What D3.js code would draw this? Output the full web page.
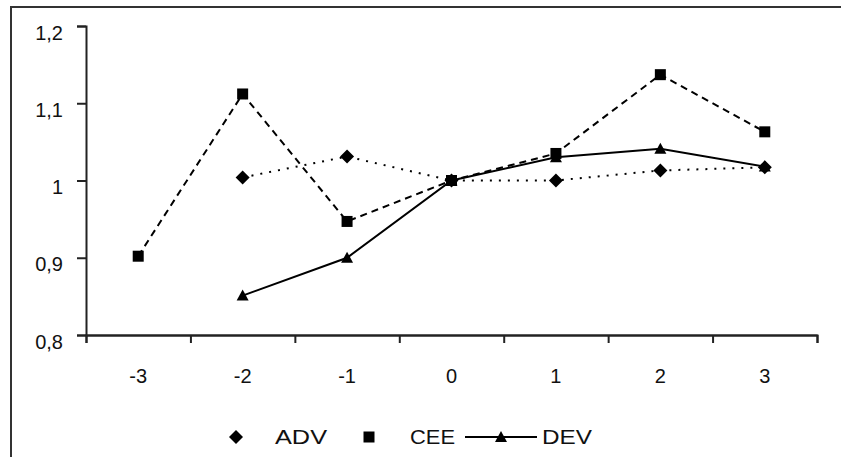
<!DOCTYPE html>
<html>
<head>
<meta charset="utf-8">
<script src="https://cdn.jsdelivr.net/npm/d3@7"></script>
<style>
  body { margin: 0; background: #fff; }
  svg { display: block; }
  text { font-family: "Liberation Sans", Arial, sans-serif; fill: #111; }
</style>
</head>
<body>
<svg id="chart" width="841" height="457"></svg>
<script>
// chart values
let categories = ["-3", "-2", "-1", "0", "1", "2", "3"];
let seriesNames = ["ADV", "CEE", "DEV"];
let advValues = [null, 1.004, 1.031, 1.0, 1.0, 1.013, 1.017];
let ceeValues = [0.902, 1.112, 0.947, 1.0, 1.035, 1.137, 1.063];
let devValues = [null, 0.851, 0.900, 1.0, 1.030, 1.041, 1.018];
let yTicks = [0.8, 0.9, 1.0, 1.1, 1.2];

let plotLeft = 86, plotRight = 817, plotTop = 26, plotBottom = 335;

var svg = d3.select("#chart");

// outer frame (runs off the right and bottom edge)
svg.append("rect")
    .attr("x", 11).attr("y", 7)
    .attr("width", 900).attr("height", 500)
    .attr("fill", "none")
    .attr("stroke", "#333")
    .attr("stroke-width", 2);

// scales
var xScale = d3.scaleBand()
    .domain(categories)
    .range([plotLeft, plotRight])
    .padding(0);

var yScale = d3.scaleLinear()
    .domain([0.8, 1.2])
    .range([plotBottom, plotTop]);

var commaFormat = d3.formatLocale({decimal: ",", thousands: ".", grouping: [3], currency: ["", ""]})
    .format(".2~f");

// y axis
var yAxisGroup = svg.append("g")
    .attr("transform", `translate(${plotLeft}, 0)`)
    .call(d3.axisLeft(yScale).tickValues(yTicks).tickSize(9).tickPadding(14).tickFormat(commaFormat));
yAxisGroup.selectAll("text")
    .attr("font-size", "20px")
    .attr("dy", "13px");

// x axis: labels at band centres, ticks at band edges
var xAxisGroup = svg.append("g")
    .attr("transform", `translate(0, ${plotBottom})`)
    .call(d3.axisBottom(xScale).tickSize(0).tickPadding(0));
xAxisGroup.selectAll("text")
    .attr("font-size", "20px")
    .attr("y", 48)
    .attr("dy", 0);

var edgeScale = d3.scaleLinear()
    .domain([0, categories.length])
    .range([plotLeft, plotRight]);
svg.append("g")
    .attr("transform", `translate(0, ${plotBottom})`)
    .call(d3.axisBottom(edgeScale).ticks(categories.length).tickSize(8).tickFormat(""));

svg.selectAll(".domain, .tick line")
    .attr("stroke", "#222")
    .attr("stroke-width", 2);

// markers
function drawMarker(g, shape, x, y) {
    if (shape == "diamond") {
        g.append("path")
            .attr("d", `M${x},${y - 7}L${x + 7},${y}L${x},${y + 7}L${x - 7},${y}Z`)
            .attr("fill", "#000");
    } else if (shape == "square") {
        g.append("rect")
            .attr("x", x - 5.5).attr("y", y - 5.5)
            .attr("width", 11).attr("height", 11)
            .attr("fill", "#000");
    } else {
        g.append("path")
            .attr("d", `M${x},${y - 6}L${x + 6},${y + 5}L${x - 6},${y + 5}Z`)
            .attr("fill", "#000");
    }
}

var seriesList = [
    {name: seriesNames[0], values: advValues, dash: "2,7", shape: "diamond"},
    {name: seriesNames[1], values: ceeValues, dash: "7,5", shape: "square"},
    {name: seriesNames[2], values: devValues, dash: null, shape: "triangle"}
];

var line = d3.line()
    .defined(d => d.v != null)
    .x(d => xScale(d.c) + xScale.bandwidth() / 2)
    .y(d => yScale(d.v));

seriesList.forEach(function(s) {
    var points = categories.map((c, i) => ({c: c, v: s.values[i]}));
    var g = svg.append("g");
    g.append("path")
        .datum(points)
        .attr("d", line)
        .attr("fill", "none")
        .attr("stroke", "#000")
        .attr("stroke-width", 2)
        .attr("stroke-dasharray", s.dash);
    points.filter(d => d.v != null).forEach(function(d) {
        drawMarker(g, s.shape, xScale(d.c) + xScale.bandwidth() / 2, yScale(d.v));
    });
});

// legend
var legendY = 437;
var legend = svg.append("g");
drawMarker(legend, "diamond", 236, legendY);
legend.append("text").attr("x", 275).attr("y", legendY + 7)
    .attr("font-size", "20px").attr("textLength", 52).attr("lengthAdjust", "spacingAndGlyphs")
    .text(seriesNames[0]);

drawMarker(legend, "square", 369, legendY);
legend.append("text").attr("x", 410).attr("y", legendY + 7)
    .attr("font-size", "20px").attr("textLength", 45).attr("lengthAdjust", "spacingAndGlyphs")
    .text(seriesNames[1]);

legend.append("line")
    .attr("x1", 465).attr("x2", 537)
    .attr("y1", legendY).attr("y2", legendY)
    .attr("stroke", "#000").attr("stroke-width", 2);
drawMarker(legend, "triangle", 501, legendY);
legend.append("text").attr("x", 542).attr("y", legendY + 7)
    .attr("font-size", "20px").attr("textLength", 50).attr("lengthAdjust", "spacingAndGlyphs")
    .text(seriesNames[2]);
</script>
</body>
</html>
